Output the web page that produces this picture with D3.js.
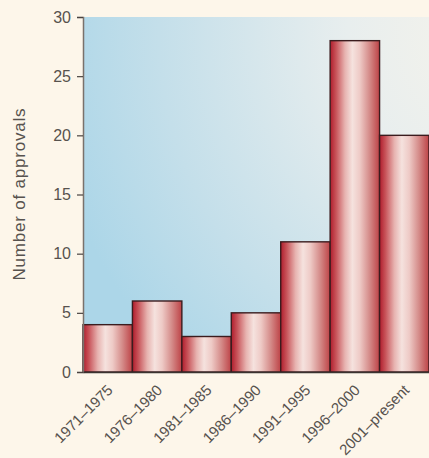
<!DOCTYPE html>
<html>
<head>
<meta charset="utf-8">
<script src="https://cdn.jsdelivr.net/npm/d3@7/dist/d3.min.js"></script>
<style>
  html, body { margin: 0; padding: 0; background: #fdf6ea; }
  svg { display: block; }
  text { font-family: "Liberation Sans", Arial, sans-serif; }
</style>
</head>
<body>
<svg id="chart" width="429" height="458"></svg>
<script>
// Approvals per period
const periods = ["1971–1975", "1976–1980", "1981–1985", "1986–1990", "1991–1995", "1996–2000", "2001–present"];
const approvals = [4, 6, 3, 5, 11, 28, 20];
const yTicks = [0, 5, 10, 15, 20, 25, 30];
const yTitle = "Number of approvals";

const W = 429, H = 458;
const margin = { top: 17, right: 0, bottom: 86, left: 83 };
const iw = W - margin.left - margin.right;
const ih = H - margin.top - margin.bottom;

const svg = d3.select("#chart");
const defs = svg.append("defs");

// Plot background: pale blue in the lower left fading to cream in the upper right
const bg = defs.append("radialGradient")
  .attr("id", "plotBg")
  .attr("gradientUnits", "userSpaceOnUse")
  .attr("cx", W).attr("cy", margin.top)
  .attr("r", 470);
bg.append("stop").attr("offset", "0%").attr("stop-color", "#f8f4ea");
bg.append("stop").attr("offset", "35%").attr("stop-color", "#e8eeee");
bg.append("stop").attr("offset", "75%").attr("stop-color", "#c4dfea");
bg.append("stop").attr("offset", "100%").attr("stop-color", "#acd6e8");

// Cylindrical shading for the bars
const barGrad = defs.append("linearGradient")
  .attr("id", "barFill")
  .attr("x1", "0%").attr("x2", "100%").attr("y1", "0%").attr("y2", "0%");
[
  ["0%", "#b01c2c"],
  ["12%", "#c8545a"],
  ["30%", "#e7b3b0"],
  ["45%", "#f5e2de"],
  ["60%", "#eecac6"],
  ["80%", "#d48a88"],
  ["100%", "#bd4246"]
].forEach(([o, c]) => barGrad.append("stop").attr("offset", o).attr("stop-color", c));

const g = svg.append("g").attr("transform", `translate(${margin.left},${margin.top})`);

const x = d3.scaleBand().domain(periods).range([0, iw]).padding(0);
const y = d3.scaleLinear().domain([0, 30]).range([ih, 0]);

g.append("rect")
  .attr("x", 0).attr("y", 0)
  .attr("width", iw).attr("height", ih)
  .attr("fill", "url(#plotBg)");

g.selectAll("rect.bar")
  .data(approvals)
  .join("rect")
  .attr("class", "bar")
  .attr("x", (d, i) => x(periods[i]))
  .attr("y", d => y(d))
  .attr("width", x.bandwidth())
  .attr("height", d => ih - y(d))
  .attr("fill", "url(#barFill)")
  .attr("stroke", "#3b1c1e")
  .attr("stroke-width", 1.4);

// Y axis
const yAxis = g.append("g")
  .call(d3.axisLeft(y).tickValues(yTicks).tickSize(6).tickPadding(6));
yAxis.select(".domain").attr("stroke", "#7a716b").attr("stroke-width", 1.5);
yAxis.selectAll(".tick line").attr("stroke", "#4a4340").attr("stroke-width", 1.2);
yAxis.selectAll(".tick text")
  .attr("fill", "#57524e")
  .style("font-size", "16px");

// X baseline and rotated category labels
const xAxis = g.append("g")
  .attr("transform", `translate(0,${ih})`)
  .call(d3.axisBottom(x).tickSize(0).tickPadding(0));
xAxis.select(".domain").attr("stroke", "#3a3330").attr("stroke-width", 1.5);
xAxis.selectAll(".tick text")
  .attr("fill", "#57524e")
  .style("font-size", "15px")
  .attr("text-anchor", "end")
  .attr("dy", "0")
  .attr("transform", "translate(6,19) rotate(-45)");

// Y axis title
svg.append("text")
  .attr("transform", `translate(25,${margin.top + ih / 2}) rotate(-90)`)
  .attr("text-anchor", "middle")
  .attr("fill", "#57524e")
  .style("font-size", "17px")
  .attr("textLength", 172)
  .attr("lengthAdjust", "spacing")
  .text(yTitle);
</script>
</body>
</html>
